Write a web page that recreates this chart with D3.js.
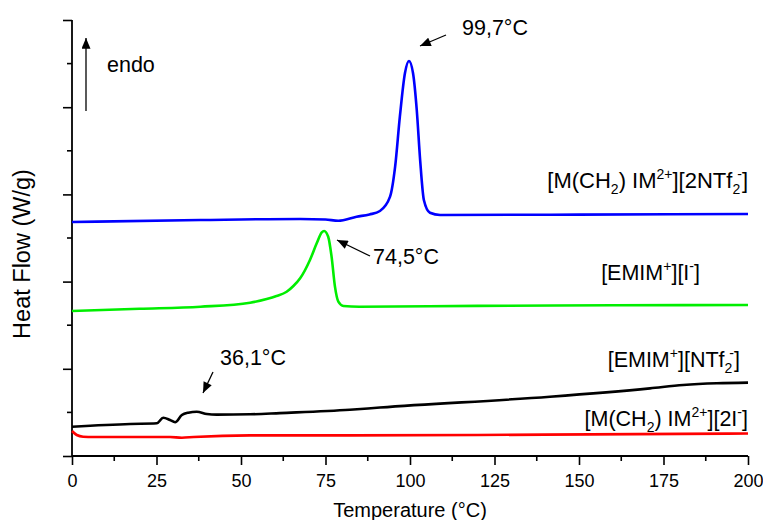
<!DOCTYPE html>
<html><head><meta charset="utf-8">
<script src="https://cdn.jsdelivr.net/npm/d3@7"></script>
<style>
body{margin:0;background:#fff;}
text{font-family:"Liberation Sans",Arial,sans-serif;fill:#000;}
</style></head>
<body><svg id="c" width="763" height="520"></svg>
<script>
// ---- data (temperature °C, heat flow arbitrary offset units) ----
const xTicks = [0,25,50,75,100,125,150,175,200];
const blueT = [0,38,67.5,75,78.8,84.2,88,91.1,94.1,95.6,97.0,98.5,99.7,100.9,102.0,103.0,104.1,105.9,108.9,150,200];
const blueV = [2.683,2.706,2.718,2.712,2.698,2.744,2.770,2.810,2.974,3.318,3.891,4.389,4.530,4.389,3.968,3.394,2.936,2.790,2.764,2.768,2.775];
const greenT = [0,20,38,52.7,57.6,60.5,63.5,65.5,67.5,70.4,72.4,73.9,74.6,75.8,76.8,77.8,78.8,80.3,85,120,160,200];
const greenV = [1.663,1.688,1.712,1.758,1.800,1.835,1.884,1.950,2.038,2.248,2.439,2.565,2.580,2.515,2.286,1.942,1.770,1.720,1.712,1.722,1.728,1.732];
const blackT = [0,17.2,25.1,27.0,29.0,30.5,32.5,34.4,36.9,39.9,42.8,52.7,61.5,82.2,91.1,141.4,171,180.8,190.8,200];
const blackV = [0.336,0.367,0.375,0.439,0.413,0.387,0.470,0.497,0.508,0.482,0.474,0.478,0.492,0.530,0.556,0.680,0.776,0.814,0.834,0.841];
const redT = [0,1.4,3.3,6.3,17.2,29,32.5,36,52.7,82.2,140,200];
const redV = [0.287,0.241,0.221,0.218,0.218,0.218,0.210,0.218,0.236,0.236,0.245,0.258];
const seriesNames = ["[M(CH2) IM2+][2NTf2-]","[EMIM+][I-]","[EMIM+][NTf2-]","[M(CH2) IM2+][2I-]"];
const seriesColors = ["#0000ff","#00ee00","#000000","#ff0000"];
const peakLabels = ["99,7°C","74,5°C","36,1°C"];

const svg = d3.select("#c");
const L=72, R=748, T=20, B=456;
const x = d3.scaleLinear().domain([0,200]).range([L,R]);
const y = d3.scaleLinear().domain([0,5]).range([B,T]);

const defs = svg.append("defs");
defs.append("marker").attr("id","ah").attr("viewBox","0 0 12 10").attr("refX",12).attr("refY",5)
  .attr("markerWidth",12).attr("markerHeight",9).attr("markerUnits","userSpaceOnUse").attr("orient","auto")
  .append("path").attr("d","M0,0 L12,5 L0,10 Z").attr("fill","#000");

// axes
const xMinor = d3.range(12.5,200,25);
const xa = svg.append("g").attr("transform",`translate(0,${B})`);
xa.call(d3.axisBottom(x).tickValues(xTicks).tickSize(9).tickFormat(d3.format("d")));
xa.selectAll(".tick text").attr("font-size",18).attr("dy","1.05em").attr("font-family",'"Liberation Sans",Arial,sans-serif');
xa.selectAll("line").attr("stroke-width",1.6);
xa.select(".domain").attr("stroke-width",1.8).attr("d",`M${L},0H${R}`);
xa.selectAll(".minor").data(xMinor).enter().append("line").attr("class","minor")
  .attr("x1",d=>x(d)).attr("x2",d=>x(d)).attr("y1",0).attr("y2",5).attr("stroke","#000").attr("stroke-width",1.6);

const ya = svg.append("g").attr("transform",`translate(${L},0)`);
ya.call(d3.axisLeft(y).tickValues([0,1,2,3,4,5]).tickSize(9).tickFormat(""));
ya.selectAll("line").attr("stroke-width",1.6);
ya.select(".domain").attr("stroke-width",1.8).attr("d",`M0,${B}V${T}`);
ya.selectAll(".minor").data([0.5,1.5,2.5,3.5,4.5]).enter().append("line").attr("class","minor")
  .attr("x1",0).attr("x2",-5).attr("y1",d=>y(d)).attr("y2",d=>y(d)).attr("stroke","#000").attr("stroke-width",1.6);

// titles
svg.append("text").attr("x",(L+R)/2).attr("y",517).attr("text-anchor","middle").attr("font-size",20).text("Temperature (°C)");
svg.append("text").attr("transform","translate(30,254) rotate(-90)").attr("text-anchor","middle").attr("font-size",23.5).text("Heat Flow (W/g)");

// curves
const line = d3.line().x(d=>x(d[0])).y(d=>y(d[1])).curve(d3.curveMonotoneX);
const all = [[blueT,blueV],[greenT,greenV],[blackT,blackV],[redT,redV]];
all.forEach((s,i)=>{
  const pts = s[0].map((t,j)=>[t,s[1][j]]);
  svg.append("path").attr("d",line(pts)).attr("fill","none").attr("stroke",seriesColors[i]).attr("stroke-width",2.6).attr("stroke-linejoin","round");
});

// series labels with sub/superscripts
function richLabel(parts, xx, yy, fs){
  const t = svg.append("text").attr("x",xx).attr("y",yy).attr("text-anchor","end").attr("font-size",fs);
  let shift = 0;
  parts.forEach(p=>{
    const target = p[1]==="sub"?6:(p[1]==="sup"?-9:0);
    const ts = t.append("tspan").attr("dy",target-shift).text(p[0]);
    if(p[1]!=="n") ts.attr("font-size",14);
    if(p[2]) ts.attr("dx",p[2]);
    shift = target;
  });
}
richLabel([["[M(CH","n"],["2","sub"],[") IM","n"],["2+","sup"],["][2NTf","n"],["2","sub"],["-","sup",-3],["]","n"]], 748, 188, 22);
richLabel([["[EMIM","n"],["+","sup"],["][I","n"],["-","sup"],["]","n"]], 700, 280, 21.5);
richLabel([["[EMIM","n"],["+","sup"],["][NTf","n"],["2","sub"],["-","sup",-3],["]","n"]], 740, 367, 21.5);
richLabel([["[M(CH","n"],["2","sub"],[") IM","n"],["2+","sup"],["][2I","n"],["-","sup"],["]","n"]], 748, 426, 21.5);

// peak annotations
svg.append("text").attr("x",462).attr("y",35).attr("font-size",21.5).text(peakLabels[0]);
svg.append("line").attr("x1",446).attr("y1",35).attr("x2",420).attr("y2",46).attr("stroke","#000").attr("stroke-width",1.3).attr("marker-end","url(#ah)");
svg.append("text").attr("x",373).attr("y",264).attr("font-size",21.5).text(peakLabels[1]);
svg.append("line").attr("x1",370).attr("y1",256).attr("x2",337).attr("y2",240).attr("stroke","#000").attr("stroke-width",1.3).attr("marker-end","url(#ah)");
svg.append("text").attr("x",220).attr("y",365).attr("font-size",21.5).text(peakLabels[2]);
svg.append("line").attr("x1",213).attr("y1",372).attr("x2",203).attr("y2",393).attr("stroke","#000").attr("stroke-width",1.3).attr("marker-end","url(#ah)");

// endo arrow
svg.append("line").attr("x1",86).attr("y1",111).attr("x2",86).attr("y2",38).attr("stroke","#000").attr("stroke-width",1.3).attr("marker-end","url(#ah)");
svg.append("text").attr("x",107).attr("y",72).attr("font-size",21.5).text("endo");
</script></body></html>
